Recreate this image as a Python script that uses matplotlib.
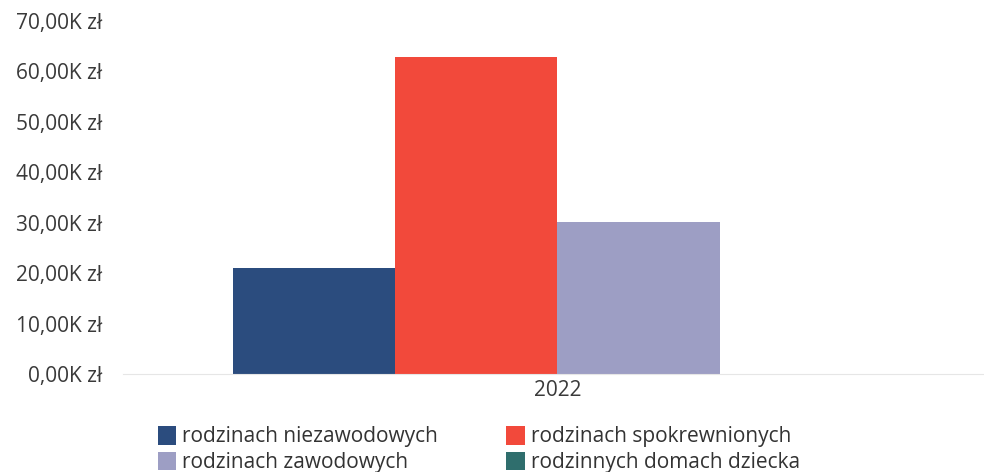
import matplotlib
matplotlib.use("Agg")
import matplotlib.pyplot as plt
from matplotlib.ticker import FuncFormatter, MultipleLocator
import numpy as np

plt.rcParams['font.family'] = ['Open Sans', 'DejaVu Sans']

categories = ["2022"]
series_names = ["rodzinach niezawodowych", "rodzinach spokrewnionych",
                "rodzinach zawodowych", "rodzinnych domach dziecka"]
values = [[21100], [62900], [30100], [0]]
colors = ["#2b4c7e", "#f2493b", "#9d9ec4", "#2f6e6d"]

fig = plt.figure(figsize=(9.84, 4.72), dpi=100)
ax = fig.add_axes([0.125, 0.2076, 0.883, 0.748])

n = len(series_names)
x = np.arange(len(categories))
group_w = 0.747
bw = group_w / n
handles = []
for i, (name, vals, c) in enumerate(zip(series_names, values, colors)):
    pos = x - group_w / 2 + bw * (i + 0.5)
    h = ax.bar(pos, vals, width=bw, color=c, label=name, linewidth=0)
    handles.append(h)

ax.set_xlim(-0.5, 0.5)
ax.set_ylim(0, 70000)
ax.yaxis.set_major_locator(MultipleLocator(10000))
ax.yaxis.set_major_formatter(FuncFormatter(lambda v, p: f"{v/1000:.2f}".replace('.', ',') + "K zł"))
ax.set_xticks(x)
ax.set_xticklabels(categories)
for s in ["top", "right", "left"]:
    ax.spines[s].set_visible(False)
ax.spines["bottom"].set_color("#e6e6e6")
ax.tick_params(axis="both", length=0, labelsize=15, colors="#3a3a3a")
ax.tick_params(axis="y", pad=15)
ax.tick_params(axis="x", pad=4)

order = [0, 2, 1, 3]
leg = fig.legend([handles[i] for i in order], [series_names[i] for i in order],
                 ncol=2, loc="center left", bbox_to_anchor=(0.1606, 0.0477),
                 frameon=False, fontsize=15, handlelength=0.87, handleheight=1.0,
                 handletextpad=0.3, columnspacing=3.27, labelspacing=0.2,
                 borderpad=0, borderaxespad=0, labelcolor="#333333")

fig.savefig("out.png", dpi=100)
